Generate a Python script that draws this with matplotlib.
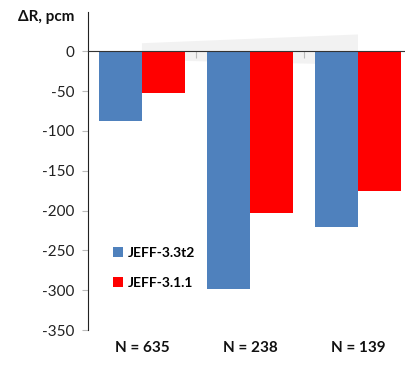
import numpy as np
import matplotlib
matplotlib.use("Agg")
import matplotlib.pyplot as plt
from matplotlib.patches import Polygon

plt.rcParams['font.family'] = ['Lato', 'DejaVu Sans']

# reactivity difference per group, pcm
groups = ['N = 635', 'N = 238', 'N = 139']
jeff33 = [-88, -298, -221]
jeff311 = [-53, -203, -176]
yticks = [0, -50, -100, -150, -200, -250, -300, -350]

c_blue = '#4F81BD'
c_red = '#FF0000'

fig = plt.figure(figsize=(4.06, 3.68), dpi=100)
ax = fig.add_axes([0.2167, 0.103, 0.798, 0.864])

x = np.arange(len(groups))
w = 0.395
ax.bar(x - w / 2, jeff33, w, color=c_blue, label='JEFF-3.3t2', zorder=2)
ax.bar(x + w / 2, jeff311, w, color=c_red, label='JEFF-3.1.1', zorder=2)

# faint shaded band behind the zero line
band = Polygon([(0.0, 10), (2.0, 21), (2.0, -17), (0.0, -11)], closed=True,
               facecolor='#f2f2f2', edgecolor='none', zorder=0)
ax.add_patch(band)

ax.set_xlim(-0.5, 2.5)
ax.set_ylim(-350, 49)

ax.spines['top'].set_visible(False)
ax.spines['right'].set_visible(False)
ax.spines['left'].set_color('#222222')
ax.spines['left'].set_bounds(-350, 49)
ax.spines['bottom'].set_position(('data', 0))
ax.spines['bottom'].set_color('#333333')
ax.spines['bottom'].set_zorder(3)

ax.set_yticks(yticks)
ax.set_yticklabels([str(v) for v in yticks])
ax.tick_params(axis='y', length=4, color='#bbbbbb', labelsize=11, pad=6,
               labelcolor='#222222')

ax.set_xticks([0.5, 1.5])
ax.set_xticklabels([])
ax.tick_params(axis='x', direction='out', length=5, color='#bbbbbb')

for i, g in enumerate(groups):
    ax.text(i, -0.055, g, transform=ax.get_xaxis_transform(), ha='center',
            va='center', fontsize=11, fontweight='bold', color='#111111')

fig.text(0.045, 0.955, 'ΔR, pcm', ha='left', va='center', fontsize=11,
         fontweight='bold', color='#111111')

ax.legend(loc='lower left', bbox_to_anchor=(0.04, 0.09), frameon=False,
          handlelength=0.7, handleheight=0.7, handletextpad=0.3,
          labelspacing=1.3, prop={'weight': 'bold', 'size': 10})

fig.savefig('out.png', dpi=100)
